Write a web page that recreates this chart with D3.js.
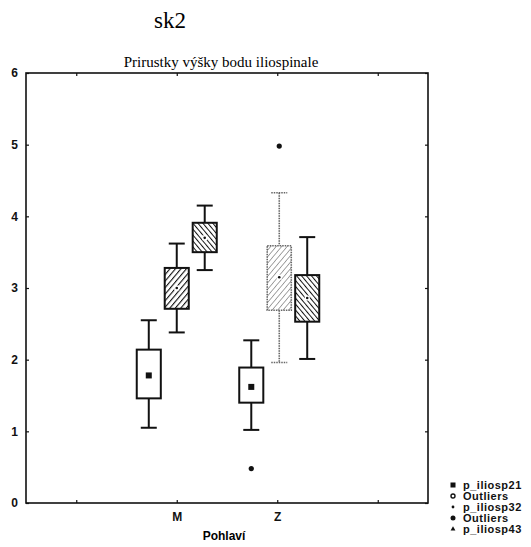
<!DOCTYPE html>
<html>
<head>
<meta charset="utf-8">
<script src="https://cdn.jsdelivr.net/npm/d3@7"></script>
<style>
  body { margin: 0; background: #fff; }
  text { font-family: "Liberation Sans", Arial, sans-serif; }
</style>
</head>
<body>
<div id="chart"></div>
<script>
// values
var groups = ["M", "Z"];
var series = ["p_iliosp21", "p_iliosp32", "p_iliosp43"];
// order: M/21, M/32, M/43, Z/21, Z/32, Z/43
var boxMin = [1.05, 2.38, 3.25, 1.02, 1.96, 2.01];
var boxQ1  = [1.46, 2.71, 3.50, 1.40, 2.69, 2.53];
var boxMed = [1.78, 3.00, 3.70, 1.62, 3.15, 2.86];
var boxQ3  = [2.14, 3.28, 3.91, 1.89, 3.59, 3.18];
var boxMax = [2.55, 3.62, 4.15, 2.27, 4.33, 3.71];
var outlierGroup = ["Z", "Z"];
var outlierSeries = ["p_iliosp21", "p_iliosp32"];
var outlierValue = [0.48, 4.98];
var yTicks = [0, 1, 2, 3, 4, 5, 6];
var xTickLabels = ["", "M", "Z", ""];
var legendLabels = ["p_iliosp21", "Outliers", "p_iliosp32", "Outliers", "p_iliosp43"];

var width = 531, height = 547;
var plotLeft = 26, plotRight = 428, plotTop = 73, plotBottom = 503;

var svg = d3.select("#chart").append("svg")
    .attr("width", width).attr("height", height);

var defs = svg.append("defs");
function hatch(id, size, angle, color, sw) {
    var p = defs.append("pattern")
        .attr("id", id)
        .attr("patternUnits", "userSpaceOnUse")
        .attr("width", size).attr("height", size)
        .attr("patternTransform", "rotate(" + angle + ")");
    p.append("rect").attr("width", size).attr("height", size).attr("fill", "#fff");
    p.append("line")
        .attr("x1", 0).attr("y1", 0).attr("x2", 0).attr("y2", size)
        .attr("stroke", color).attr("stroke-width", sw);
}
hatch("h32", 4.2, 40, "#111", 2.2);
hatch("h32light", 4.2, 40, "#777", 1.3);
hatch("h43", 3.8, -40, "#111", 2.0);

var y = d3.scaleLinear().domain([0, 6]).range([plotBottom, plotTop]);
// x positions 1..4, categories M and Z sit at 2 and 3
var x = d3.scaleLinear().domain([0.5, 4.5]).range([plotLeft, plotRight]);
var groupPos = { "M": 2, "Z": 3 };
var inner = d3.scaleBand().domain(series).range([-40, 40]).paddingInner(0.14);

// titles
svg.append("text")
    .attr("x", 170).attr("y", 28)
    .attr("text-anchor", "middle")
    .style("font-family", "'Liberation Serif', 'Times New Roman', serif")
    .style("font-size", "23px")
    .text("sk2");
svg.append("text")
    .attr("x", 221).attr("y", 67)
    .attr("text-anchor", "middle")
    .style("font-family", "'Liberation Serif', 'Times New Roman', serif")
    .style("font-size", "15px")
    .text("Prirustky výšky bodu iliospinale");

// frame
svg.append("rect")
    .attr("x", plotLeft).attr("y", plotTop)
    .attr("width", plotRight - plotLeft).attr("height", plotBottom - plotTop)
    .attr("fill", "none").attr("stroke", "#111").attr("stroke-width", 1.6);

// axes with inward ticks
var yAxis = d3.axisLeft(y).tickValues(yTicks).tickSize(-3).tickPadding(8).tickFormat(d3.format("d"));
var yAxisR = d3.axisRight(y).tickValues(yTicks).tickSize(-3).tickFormat("");
var xAxis = d3.axisBottom(x).tickValues([1, 2, 3, 4]).tickSize(-3).tickPadding(9)
    .tickFormat(function (d) { return xTickLabels[d - 1]; });
var xAxisT = d3.axisTop(x).tickValues([1, 2, 3, 4]).tickSize(-3).tickFormat("");

function styleAxis(g) {
    g.select(".domain").remove();
    g.selectAll(".tick line").attr("stroke", "#111").attr("stroke-width", 1.2);
    g.selectAll("text")
        .style("font-size", "12px").style("font-weight", "bold")
        .attr("fill", "#111");
}
svg.append("g").attr("transform", "translate(" + plotLeft + ",0)").call(yAxis).call(styleAxis);
svg.append("g").attr("transform", "translate(" + plotRight + ",0)").call(yAxisR).call(styleAxis);
svg.append("g").attr("transform", "translate(0," + plotBottom + ")").call(xAxis).call(styleAxis);
svg.append("g").attr("transform", "translate(0," + plotTop + ")").call(xAxisT).call(styleAxis);

svg.append("text")
    .attr("x", 224).attr("y", 540)
    .attr("text-anchor", "middle")
    .style("font-size", "12px").style("font-weight", "bold")
    .text("Pohlaví");

// build box table
var boxes = [];
groups.forEach(function (g, gi) {
    series.forEach(function (s, si) {
        var i = gi * series.length + si;
        boxes.push({ group: g, series: s, min: boxMin[i], q1: boxQ1[i], med: boxMed[i], q3: boxQ3[i], max: boxMax[i] });
    });
});

function cx(g, s) {
    return x(groupPos[g]) + inner(s) + inner.bandwidth() / 2 + (g == "Z" ? 2 : 0);
}
function fillFor(d) {
    if (d.series == "p_iliosp21") return "#fff";
    if (d.series == "p_iliosp32") return d.group == "Z" ? "url(#h32light)" : "url(#h32)";
    return "url(#h43)";
}
function faded(d) { return d.group == "Z" && d.series == "p_iliosp32"; }

var bw = inner.bandwidth();
var capW = 16;
var box = svg.selectAll("g.box").data(boxes).enter().append("g").attr("class", "box");

box.each(function (d) {
    var g = d3.select(this);
    var c = cx(d.group, d.series);
    var col = faded(d) ? "#666" : "#111";
    var dash = faded(d) ? "1.5,1" : null;
    var sw = faded(d) ? 1.6 : 2;
    // whiskers
    g.append("line").attr("x1", c).attr("x2", c).attr("y1", y(d.max)).attr("y2", y(d.q3))
        .attr("stroke", col).attr("stroke-width", sw).attr("stroke-dasharray", dash);
    g.append("line").attr("x1", c).attr("x2", c).attr("y1", y(d.q1)).attr("y2", y(d.min))
        .attr("stroke", col).attr("stroke-width", sw).attr("stroke-dasharray", dash);
    g.append("line").attr("x1", c - capW / 2).attr("x2", c + capW / 2).attr("y1", y(d.max)).attr("y2", y(d.max))
        .attr("stroke", col).attr("stroke-width", sw).attr("stroke-dasharray", dash);
    g.append("line").attr("x1", c - capW / 2).attr("x2", c + capW / 2).attr("y1", y(d.min)).attr("y2", y(d.min))
        .attr("stroke", col).attr("stroke-width", sw).attr("stroke-dasharray", dash);
    // box
    g.append("rect")
        .attr("x", c - bw / 2).attr("width", bw)
        .attr("y", y(d.q3)).attr("height", y(d.q1) - y(d.q3))
        .attr("fill", fillFor(d))
        .attr("stroke", col).attr("stroke-width", sw).attr("stroke-dasharray", dash);
    // median marker
    if (d.series == "p_iliosp21") {
        g.append("rect").attr("x", c - 3).attr("y", y(d.med) - 3).attr("width", 6).attr("height", 6).attr("fill", "#111");
    } else {
        g.append("rect").attr("x", c - 2.5).attr("y", y(d.med) - 2.5).attr("width", 5).attr("height", 5).attr("fill", "#fff");
        g.append("circle").attr("cx", c).attr("cy", y(d.med)).attr("r", 1.3).attr("fill", "#111");
    }
});

// outliers
svg.selectAll("circle.out").data(outlierValue).enter().append("circle")
    .attr("class", "out")
    .attr("cx", function (d, i) { return cx(outlierGroup[i], outlierSeries[i]); })
    .attr("cy", function (d) { return y(d); })
    .attr("r", 2.6)
    .attr("fill", "#111");

// legend
var legY = d3.scalePoint().domain(legendLabels.map(function (d, i) { return i; })).range([485, 529]);
var leg = svg.selectAll("g.leg").data(legendLabels).enter().append("g")
    .attr("class", "leg")
    .attr("transform", function (d, i) { return "translate(453," + legY(i) + ")"; });
leg.each(function (d, i) {
    var g = d3.select(this);
    if (i == 0) g.append("rect").attr("x", -2.5).attr("y", -2.5).attr("width", 5).attr("height", 5).attr("fill", "#111");
    if (i == 1) g.append("circle").attr("r", 2).attr("fill", "#fff").attr("stroke", "#111").attr("stroke-width", 1.4);
    if (i == 2) g.append("circle").attr("r", 1.4).attr("fill", "#111");
    if (i == 3) g.append("circle").attr("r", 2.5).attr("fill", "#111");
    if (i == 4) g.append("path").attr("d", d3.symbol(d3.symbolTriangle, 10)()).attr("fill", "#111");
});
leg.append("text")
    .attr("x", 10).attr("y", 4)
    .style("font-size", "11px").style("font-weight", "bold")
    .style("letter-spacing", "0.5px")
    .attr("fill", "#111")
    .text(function (d) { return d; });
</script>
</body>
</html>
